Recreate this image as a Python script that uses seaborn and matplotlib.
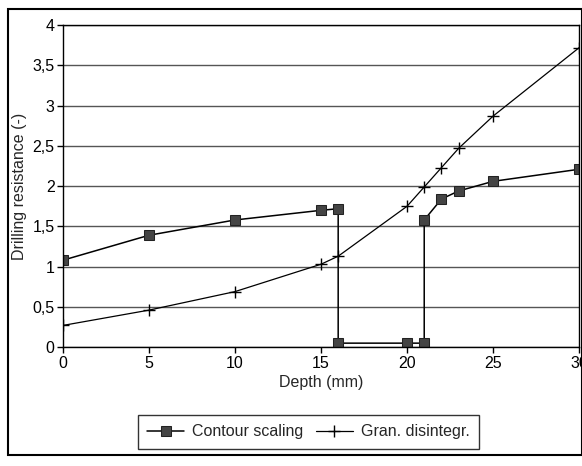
import matplotlib
matplotlib.use("Agg")
import matplotlib.pyplot as plt
import seaborn as sns
import pandas as pd
from matplotlib.patches import Rectangle

# Data
cs_depth = [0, 5, 10, 15, 16, 16, 20, 21, 21, 22, 23, 25, 30]
cs_res = [1.08, 1.39, 1.58, 1.70, 1.72, 0.05, 0.05, 0.05, 1.58, 1.84, 1.94, 2.06, 2.21]
gd_depth = [0, 5, 10, 15, 16, 20, 21, 22, 23, 25, 30]
gd_res = [0.27, 0.46, 0.69, 1.03, 1.13, 1.75, 1.99, 2.23, 2.47, 2.87, 3.72]
x_ticks = [0, 5, 10, 15, 20, 25, 30]
y_ticks = [0, 0.5, 1, 1.5, 2, 2.5, 3, 3.5, 4]
y_labels = ["0", "0,5", "1", "1,5", "2", "2,5", "3", "3,5", "4"]

sns.set_style("white")
plt.rcParams['font.family'] = ['Liberation Sans', 'DejaVu Sans']

fig = plt.figure(figsize=(5.82, 4.66), dpi=100)
ax = fig.add_axes([0.108, 0.255, 0.887, 0.691])

df_cs = pd.DataFrame({"Depth": cs_depth, "Res": cs_res})
df_gd = pd.DataFrame({"Depth": gd_depth, "Res": gd_res})

sns.lineplot(data=df_cs, x="Depth", y="Res", sort=False, ax=ax, color="black",
             linewidth=1.1, marker="s", markersize=6.5, markerfacecolor="#444444",
             markeredgecolor="#222222", label="Contour scaling", estimator=None)
sns.lineplot(data=df_gd, x="Depth", y="Res", sort=False, ax=ax, color="black",
             linewidth=0.9, marker="+", markersize=9, markeredgewidth=1.0,
             markeredgecolor="black", markerfacecolor="black",
             label="Gran. disintegr.", estimator=None)

ax.set_xlim(0, 30)
ax.set_ylim(0, 4)
ax.set_xticks(x_ticks)
ax.set_yticks(y_ticks)
ax.set_yticklabels(y_labels)
ax.yaxis.grid(True, color="#555555", linewidth=1.0)
ax.set_axisbelow(True)
for s in ax.spines.values():
    s.set_color("black")
    s.set_linewidth(1.0)
ax.tick_params(axis="both", direction="out", length=4, width=1, labelsize=11.5, pad=2,
               colors="black", bottom=True, left=True)
ax.set_xlabel("Depth (mm)", fontsize=11.5, labelpad=3)
ax.set_ylabel("Drilling resistance (-)", fontsize=11.5, labelpad=4)

leg = ax.legend(loc="center", bbox_to_anchor=(0.53, 0.073), bbox_transform=fig.transFigure,
                ncol=2, frameon=True, fancybox=False, fontsize=11.5, handlelength=2.3,
                columnspacing=0.8, handletextpad=0.5, borderpad=0.6, edgecolor="black")
leg.get_frame().set_linewidth(1.0)

fig.patches.append(Rectangle((8/582, 1 - 455/466), 1 - 8/582, (455 - 9)/466,
                             transform=fig.transFigure, fill=False, edgecolor="black",
                             linewidth=1.5))

fig.savefig("out.png", dpi=100)
